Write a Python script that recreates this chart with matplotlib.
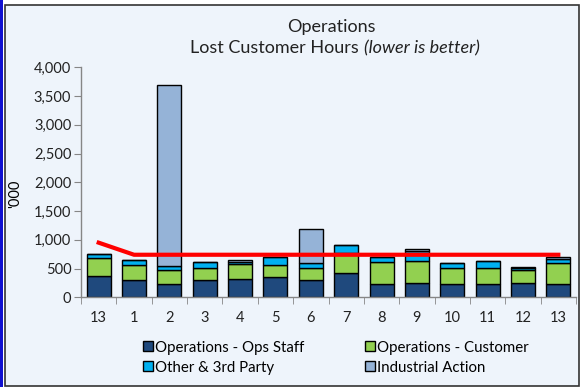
import matplotlib.pyplot as plt
import numpy as np
from matplotlib.patches import Rectangle

periods = ["13", "1", "2", "3", "4", "5", "6", "7", "8", "9", "10", "11", "12", "13"]
ops_staff = [375, 295, 230, 300, 315, 345, 295, 415, 230, 250, 230, 230, 250, 230]
ops_customer = [315, 270, 245, 215, 270, 220, 210, 350, 380, 375, 275, 275, 230, 375]
other_3rd = [70, 85, 75, 95, 35, 130, 85, 140, 85, 180, 85, 130, 35, 60]
industrial = [0, 0, 3150, 0, 30, 0, 590, 0, 0, 40, 0, 0, 15, 35]
target = [950, 740, 740, 740, 740, 740, 740, 740, 740, 740, 740, 740, 740, 740]

series = [
    ("Operations - Ops Staff", ops_staff, "#1F497D"),
    ("Operations - Customer", ops_customer, "#92D050"),
    ("Other & 3rd Party", other_3rd, "#00B0F0"),
    ("Industrial Action", industrial, "#95B3D7"),
]

bg = "#EEF4FB"
plt.rcParams["font.family"] = ["Lato", "DejaVu Sans"]

fig = plt.figure(figsize=(5.83, 3.87), dpi=100)
fig.patch.set_facecolor("white")

# chart frame and blue edge strip
fig.patches.append(Rectangle((5 / 583, 1 - 386 / 387), 574 / 583, 381 / 387,
                             transform=fig.transFigure, facecolor=bg,
                             edgecolor="#333333", linewidth=1.2, zorder=-2))
fig.patches.append(Rectangle((0, 0), 3 / 583, 1, transform=fig.transFigure,
                             facecolor="#1010D0", edgecolor="none", zorder=-2))

ax = fig.add_axes([81 / 583, 1 - 297.3 / 387, 495 / 583, 230 / 387])
ax.set_facecolor(bg)

x = np.arange(len(periods))
bottom = np.zeros(len(periods))
bars = []
for name, vals, col in series:
    b = ax.bar(x, vals, 0.68, bottom=bottom, color=col, edgecolor="black",
               linewidth=1.0, label=name, zorder=2)
    bars.append(b)
    bottom += np.array(vals)

ax.plot(x, target, color="#FF0000", linewidth=3, zorder=3)

ax.set_xlim(-0.5, len(periods) - 0.5)
ax.set_ylim(0, 4000)
ax.set_yticks(np.arange(0, 4001, 500))
ax.set_yticklabels([f"{v:,}" for v in range(0, 4001, 500)], fontsize=10.5,
                   color="#222222")
ax.set_xticks(x)
ax.set_xticklabels(periods, fontsize=10.5, color="#222222")
ax.set_xticks(np.arange(-0.5, len(periods), 1), minor=True)
ax.tick_params(axis="x", which="major", length=0, pad=10)
ax.tick_params(axis="x", which="minor", length=5, color="#868686")
ax.tick_params(axis="y", length=5, color="#868686", pad=2)
for s in ["top", "right"]:
    ax.spines[s].set_visible(False)
for s in ["left", "bottom"]:
    ax.spines[s].set_color("#868686")
    ax.spines[s].set_linewidth(1.0)

ax.set_ylabel("'000", fontsize=10.5)
ax.yaxis.set_label_coords(-0.118, 0.45)

# legend rows: Ops Staff / Customer, then Other / Industrial
order = [0, 2, 1, 3]
leg = ax.legend([bars[i] for i in order], [series[i][0] for i in order],
                loc="upper center", bbox_to_anchor=(0.515, -0.13), ncol=2,
                frameon=False, fontsize=10.8, handlelength=0.65,
                handleheight=0.65, handletextpad=0.15, columnspacing=4.0,
                labelspacing=0.4)
for h in leg.legend_handles:
    h.set_linewidth(1.0)

# two-line title, the remark in italics
fig.text(331 / 583, 1 - 27 / 387, "Operations", ha="center", va="center",
         fontsize=13, color="#222222")
t1 = fig.text(0, 1 - 48 / 387, "Lost Customer Hours ", ha="left",
              va="center", fontsize=13, color="#222222")
t2 = fig.text(0, 1 - 48 / 387, "(lower is better)", ha="left", va="center",
              fontsize=13, style="italic", color="#222222")
fig.canvas.draw()
r = fig.canvas.get_renderer()
w1 = t1.get_window_extent(r).width
w2 = t2.get_window_extent(r).width
x0 = 335 - (w1 + w2) / 2
t1.set_x(x0 / 583)
t2.set_x((x0 + w1) / 583)

fig.savefig("out.png", dpi=100, facecolor=fig.get_facecolor())
